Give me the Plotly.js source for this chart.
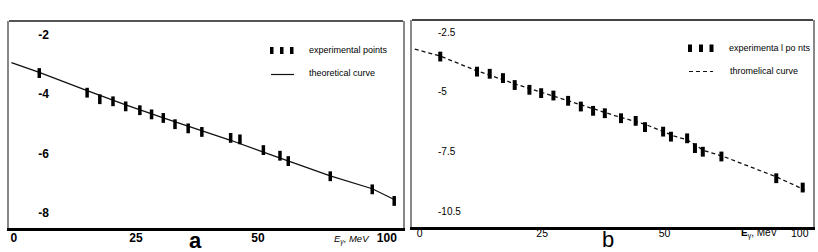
<!DOCTYPE html>
<html>
<head>
<meta charset="utf-8">
<script src="https://cdn.plot.ly/plotly-3.0.1.min.js"></script>
<style>html,body{margin:0;padding:0;background:#fff;}#chart{width:818px;height:252px;}</style>
</head>
<body>
<div id="chart"></div>
<script>
// ---- Panel a data (x in axis units as drawn; tick "100" sits where the figure puts it) ----
var expA_x = [5.2, 15.0, 17.6, 20.3, 22.9, 25.8, 28.2, 30.6, 33.0, 35.7, 38.5, 44.4, 46.3, 51.1, 54.5, 56.2, 64.8, 73.4, 77.9];
var expA_y = [-3.29, -3.95, -4.17, -4.24, -4.41, -4.54, -4.68, -4.80, -5.01, -5.15, -5.27, -5.47, -5.52, -5.88, -6.07, -6.25, -6.76, -7.20, -7.59];
var theoA_x = [-0.5, 5.2, 15.0, 22.9, 30.6, 38.5, 44.4, 51.1, 56.2, 64.8, 73.4, 78.1];
var theoA_y = [-2.94, -3.27, -3.88, -4.36, -4.80, -5.22, -5.55, -5.95, -6.25, -6.75, -7.18, -7.56];

// ---- Panel b data ----
var expB_x = [4.2, 11.7, 14.3, 17.0, 19.4, 22.4, 24.8, 27.3, 30.3, 32.9, 35.4, 37.8, 41.1, 44.1, 46.0, 49.7, 51.3, 54.6, 56.2, 57.8, 61.6, 72.8, 78.2];
var expB_y = [-3.52, -4.15, -4.24, -4.42, -4.71, -4.91, -5.05, -5.15, -5.37, -5.61, -5.79, -5.89, -6.10, -6.21, -6.47, -6.66, -6.87, -6.94, -7.35, -7.50, -7.70, -8.61, -9.00];
var theoB_x = [-1.0, 4.2, 11.7, 20.0, 30.0, 40.0, 46.0, 52.0, 54.6, 58.0, 62.0, 72.8, 78.6];
var theoB_y = [-3.21, -3.50, -4.12, -4.70, -5.35, -6.00, -6.35, -6.85, -7.00, -7.45, -7.70, -8.55, -9.10];

// ---- Tick labels ----
var tickA_x_vals = [0, 25, 50, 76.4];
var tickA_x_text = ["0", "25", "50", "100"];
var tickA_y_vals = [-2, -4, -6, -8];
var tickA_y_text = ["-2", "-4", "-6", "-8"];
var tickB_x_vals = [0, 25, 50, 77.6];
var tickB_x_text = ["0", "25", "50", "100"];
var tickB_y_vals = [-2.5, -5, -7.5, -10];
var tickB_y_text = ["-2.5", "-5", "-7.5", "-10.5"];

var legendExp = ["experimental points", "experimenta l po nts"];
var legendTheo = ["theoretical curve", "throm\u0435lical curve"];
var panelLetters = ["a", "b"];

var W = 818, H = 252;
function px(x){ return x / W; }
function py(y){ return 1 - y / H; }
var SANS = "'Liberation Sans', Arial, sans-serif";
var rangeA = [-8.5, -1.54], rangeB = [-10.65, -1.99];

var traces = [
  {x: theoA_x, y: theoA_y, xaxis: "x", yaxis: "y", mode: "lines", line: {color: "#111", width: 1.3}, hoverinfo: "skip"},
  {x: expA_x, y: expA_y, xaxis: "x", yaxis: "y3", mode: "markers",
   marker: {symbol: "line-ns", size: 7, color: "#000", line: {color: "#000", width: 3.5}}},
  {x: theoB_x, y: theoB_y, xaxis: "x2", yaxis: "y2", mode: "lines", line: {color: "#111", width: 1.3, dash: "4px,3px"}, hoverinfo: "skip"},
  {x: expB_x, y: expB_y, xaxis: "x2", yaxis: "y4", mode: "markers",
   marker: {symbol: "line-ns", size: 7, color: "#000", line: {color: "#000", width: 4}}}
];

var xCommon = {showgrid: false, zeroline: false, ticks: "", showline: true, linecolor: "#000", linewidth: 3, fixedrange: true, tickmode: "array"};
var yCommon = {showgrid: false, zeroline: false, ticks: "", showline: true, mirror: true, linecolor: "#888", linewidth: 2, fixedrange: true, showticklabels: false};
var yLabel = {showgrid: false, zeroline: false, ticks: "", showline: false, fixedrange: true, tickmode: "array", anchor: "free"};

var layout = {
  width: W, height: H,
  margin: {l: 0, r: 0, t: 0, b: 0},
  paper_bgcolor: "#fff", plot_bgcolor: "#fff",
  showlegend: false,
  xaxis: Object.assign({}, xCommon, {domain: [px(9), px(403)], range: [-1.0, 79.7], anchor: "y",
    tickvals: tickA_x_vals, ticktext: tickA_x_text, ticklabelstandoff: -3,
    tickfont: {family: SANS, size: 12, color: "#000", weight: "bold"}}),
  yaxis: Object.assign({}, yCommon, {domain: [1 - 228 / H, 1 - 21 / H], range: rangeA, anchor: "x"}),
  yaxis3: Object.assign({}, yLabel, {overlaying: "y", range: rangeA, side: "left", position: px(49),
    tickvals: tickA_y_vals, ticktext: tickA_y_text,
    tickfont: {family: SANS, size: 12, color: "#000", weight: "bold"}}),
  xaxis2: Object.assign({}, xCommon, {domain: [px(412), px(813)], range: [-1.57, 80.3], anchor: "y2",
    tickvals: tickB_x_vals, ticktext: tickB_x_text, ticklabelstandoff: -6,
    tickfont: {family: SANS, size: 10.5, color: "#000"}}),
  yaxis2: Object.assign({}, yCommon, {domain: [1 - 227 / H, 1 - 20 / H], range: rangeB, anchor: "x2"}),
  yaxis4: Object.assign({}, yLabel, {overlaying: "y2", range: rangeB, side: "right", position: px(437),
    tickvals: tickB_y_vals, ticktext: tickB_y_text,
    tickfont: {family: SANS, size: 10, color: "#000"}}),
  shapes: [
    // top borders
    {type: "line", xref: "x domain", yref: "y domain", x0: 0, x1: 1, y0: 1, y1: 1, line: {color: "#555", width: 2}},
    {type: "line", xref: "x2 domain", yref: "y2 domain", x0: 0, x1: 1, y0: 1, y1: 1, line: {color: "#444", width: 2}},
    // legend keys panel a
    {type: "rect", xref: "paper", yref: "paper", x0: px(270), x1: px(273.5), y0: py(54), y1: py(47), fillcolor: "#000", line: {width: 0}},
    {type: "rect", xref: "paper", yref: "paper", x0: px(280), x1: px(283.5), y0: py(54), y1: py(47), fillcolor: "#000", line: {width: 0}},
    {type: "rect", xref: "paper", yref: "paper", x0: px(290), x1: px(293.5), y0: py(54), y1: py(47), fillcolor: "#000", line: {width: 0}},
    {type: "line", xref: "paper", yref: "paper", x0: px(271), x1: px(294), y0: py(74.5), y1: py(74.5), line: {color: "#111", width: 1.2}},
    // legend keys panel b
    {type: "rect", xref: "paper", yref: "paper", x0: px(688), x1: px(692), y0: py(52), y1: py(44.5), fillcolor: "#000", line: {width: 0}},
    {type: "rect", xref: "paper", yref: "paper", x0: px(699), x1: px(703), y0: py(52), y1: py(44.5), fillcolor: "#000", line: {width: 0}},
    {type: "rect", xref: "paper", yref: "paper", x0: px(709.5), x1: px(713.5), y0: py(52), y1: py(44.5), fillcolor: "#000", line: {width: 0}},
    {type: "line", xref: "paper", yref: "paper", x0: px(689), x1: px(713), y0: py(71.5), y1: py(71.5), line: {color: "#111", width: 1.2, dash: "4px,3px"}}
  ],
  annotations: [
    {xref: "paper", yref: "paper", x: px(307), y: py(50), xanchor: "left", yanchor: "middle", showarrow: false,
     text: legendExp[0], font: {family: SANS, size: 9, color: "#000"}},
    {xref: "paper", yref: "paper", x: px(307), y: py(73), xanchor: "left", yanchor: "middle", showarrow: false,
     text: legendTheo[0], font: {family: SANS, size: 9, color: "#000"}},
    {xref: "paper", yref: "paper", x: px(727), y: py(48), xanchor: "left", yanchor: "middle", showarrow: false,
     text: legendExp[1], font: {family: SANS, size: 9, color: "#000"}},
    {xref: "paper", yref: "paper", x: px(728), y: py(71), xanchor: "left", yanchor: "middle", showarrow: false,
     text: legendTheo[1], font: {family: SANS, size: 9, color: "#000"}},
    {xref: "paper", yref: "paper", x: px(195), y: py(240), xanchor: "center", yanchor: "middle", showarrow: false,
     text: panelLetters[0], font: {family: SANS, size: 22, color: "#000", weight: "bold"}},
    {xref: "paper", yref: "paper", x: px(608), y: py(239), xanchor: "center", yanchor: "middle", showarrow: false,
     text: panelLetters[1], font: {family: SANS, size: 22, color: "#000"}},
    {xref: "paper", yref: "paper", x: px(352), y: py(239), xanchor: "center", yanchor: "middle", showarrow: false,
     text: "<i>E<sub>\u03b3</sub>, MeV</i>", font: {family: SANS, size: 9.5, color: "#000"}},
    {xref: "paper", yref: "paper", x: px(759), y: py(233), xanchor: "center", yanchor: "middle", showarrow: false,
     text: "<b>E</b><sub>\u03b3</sub>, MeV", font: {family: SANS, size: 10, color: "#000"}}
  ]
};

Plotly.newPlot("chart", traces, layout, {displayModeBar: false, staticPlot: true});
</script>
</body>
</html>
